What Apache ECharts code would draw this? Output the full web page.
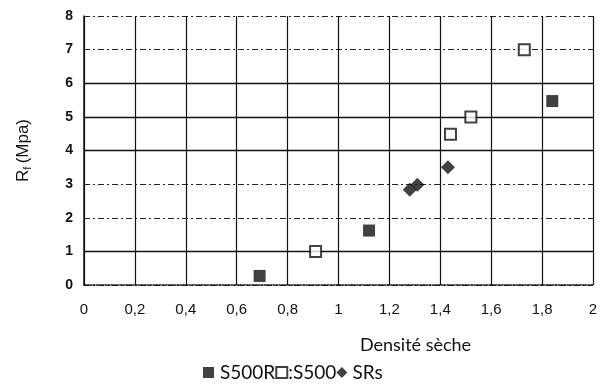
<!DOCTYPE html>
<html>
<head>
<meta charset="utf-8">
<script src="https://cdn.jsdelivr.net/npm/echarts@6/dist/echarts.min.js"></script>
<style>
  html, body { margin: 0; padding: 0; background: #fff; }
  #chart { width: 611px; height: 384px; }
</style>
</head>
<body>
<div id="chart"></div>
<script>
// valeurs
const s500r = [[0.69, 0.27], [1.12, 1.62], [1.84, 5.47]];
const s500 = [[0.91, 1.0], [1.44, 4.48], [1.52, 5.0], [1.73, 7.0]];
const srs = [[1.28, 2.83], [1.31, 2.98], [1.43, 3.5]];
const solidY = [1, 4, 5, 6];

const chart = echarts.init(document.getElementById('chart'));

const legendFont = { fontFamily: 'Lato', fontSize: 19, color: '#111' };

const option = {
  animation: false,
  grid: { left: 84, right: 18, top: 16, bottom: 99 },
  legend: {
    left: 203,
    top: 363,
    padding: 0,
    itemWidth: 11,
    itemHeight: 11,
    itemGap: 0,
    textStyle: legendFont,
    data: [
      { name: 'S500R', textStyle: { ...legendFont, padding: [0, 0, 0, 1] } },
      { name: ':S500', textStyle: { ...legendFont, padding: [0, 0, 0, -4] } },
      { name: 'SRs', textStyle: { ...legendFont, padding: [0, 0, 0, 0] } }
    ]
  },
  xAxis: {
    type: 'value',
    min: 0,
    max: 2,
    interval: 0.2,
    name: 'Densité sèche',
    nameLocation: 'middle',
    nameGap: 51,
    nameTextStyle: { fontFamily: 'Lato', fontSize: 18, color: '#111', padding: [0, 0, 0, 154] },
    axisLine: { lineStyle: { color: '#111', type: 'dotted', width: 1.5 } },
    axisTick: { show: true, inside: true, length: 4, lineStyle: { color: '#111' } },
    axisLabel: {
      fontFamily: 'Liberation Sans',
      fontSize: 15,
      color: '#111',
      margin: 17,
      formatter: v => String(+v.toFixed(1)).replace('.', ',')
    },
    splitLine: { lineStyle: { color: '#111', width: 1.2 } }
  },
  yAxis: {
    type: 'value',
    min: 0,
    max: 8,
    interval: 1,
    name: '{a|R}{b|f} {a|(Mpa)}',
    nameLocation: 'middle',
    nameGap: 51,
    nameTextStyle: {
      rich: {
        a: { fontFamily: 'Liberation Sans', fontSize: 17, color: '#111' },
        b: { fontFamily: 'Liberation Sans', fontSize: 11, color: '#111', padding: [9, 0, 0, 0] }
      }
    },
    axisLine: { lineStyle: { color: '#111', width: 1.5 } },
    axisTick: { show: false },
    axisLabel: {
      fontFamily: 'Liberation Sans',
      fontSize: 14,
      fontWeight: 'bold',
      color: '#111',
      margin: 11
    },
    splitLine: { lineStyle: { color: '#222', type: [6, 3, 2, 3], width: 1.2 } }
  },
  series: [
    {
      name: 'S500R',
      type: 'scatter',
      symbol: 'rect',
      symbolSize: 12,
      itemStyle: { color: '#111' },
      data: s500r,
      markLine: {
        silent: true,
        symbol: 'none',
        label: { show: false },
        lineStyle: { color: '#111', type: 'solid', width: 1.3 },
        data: solidY.map(v => ({ yAxis: v }))
      },
      z: 5
    },
    {
      name: ':S500',
      type: 'scatter',
      symbol: 'rect',
      symbolSize: 11,
      itemStyle: { color: '#fff', borderColor: '#111', borderWidth: 2 },
      data: s500,
      z: 5
    },
    {
      name: 'SRs',
      type: 'scatter',
      symbol: 'diamond',
      symbolSize: 14,
      itemStyle: { color: '#111' },
      data: srs,
      z: 5
    }
  ]
};

chart.setOption(option);
</script>
</body>
</html>
